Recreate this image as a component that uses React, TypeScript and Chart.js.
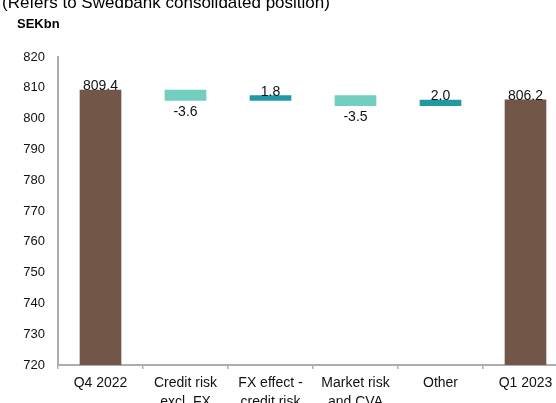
import React, { useEffect, useRef } from "react";
import { Chart, registerables } from "chart.js";

Chart.register(...registerables);

const titleText = "(Refers to Swedbank consolidated position)";
const unitText = "SEKbn";

const categories: string[][] = [
  ["Q4 2022"],
  ["Credit risk", "excl. FX"],
  ["FX effect -", "credit risk"],
  ["Market risk", "and CVA"],
  ["Other"],
  ["Q1 2023"],
];
const openingValue = 809.4;
const changes = [-3.6, 1.8, -3.5, 2.0];
const closingValue = 806.2;
const valueLabels = ["809.4", "-3.6", "1.8", "-3.5", "2.0", "806.2"];

const yMin = 720;
const yMax = 820;
const yStep = 10;

const COLOR_TOTAL = "#725749";
const COLOR_DOWN = "#72CEBF";
const COLOR_UP = "#2099A4";
const AXIS_COLOR = "#ADADAD";
const FONT = "'Liberation Sans', Arial, Helvetica, sans-serif";

function buildBars() {
  const data: [number, number][] = [];
  const colors: string[] = [];
  data.push([yMin, openingValue]);
  colors.push(COLOR_TOTAL);
  let running = openingValue;
  for (const c of changes) {
    const next = running + c;
    data.push([running, next]);
    colors.push(c < 0 ? COLOR_DOWN : COLOR_UP);
    running = next;
  }
  data.push([yMin, closingValue]);
  colors.push(COLOR_TOTAL);
  return { data, colors };
}

const labelPlugin = {
  id: "waterfallLabels",
  afterDatasetsDraw(chart: any) {
    const ctx = chart.ctx;
    const meta = chart.getDatasetMeta(0);
    ctx.save();
    ctx.font = `14px ${FONT}`;
    ctx.fillStyle = "#111";
    ctx.textAlign = "center";
    ctx.textBaseline = "alphabetic";
    meta.data.forEach((el: any, i: number) => {
      const top = Math.min(el.y, el.base);
      const bottom = Math.max(el.y, el.base);
      const isChange = i > 0 && i < meta.data.length - 1;
      const v = isChange ? changes[i - 1] : 1;
      if (v < 0) {
        ctx.fillText(valueLabels[i], el.x, bottom + 15.5);
      } else {
        ctx.fillText(valueLabels[i], el.x, top + 0.5);
      }
    });
    ctx.restore();
  },
};

const headerPlugin = {
  id: "header",
  afterDraw(chart: any) {
    const ctx = chart.ctx;
    ctx.save();
    ctx.fillStyle = "#000";
    ctx.textAlign = "left";
    ctx.textBaseline = "alphabetic";
    ctx.font = `17px ${FONT}`;
    ctx.fillText(titleText, 2, 7.5);
    ctx.font = `bold 13px ${FONT}`;
    ctx.fillText(unitText, 17, 28.3);
    ctx.restore();
  },
};

export default function App() {
  const canvasRef = useRef<HTMLCanvasElement | null>(null);

  useEffect(() => {
    const canvas = canvasRef.current;
    if (!canvas) return;
    const { data, colors } = buildBars();
    const chart = new Chart(canvas, {
      type: "bar",
      data: {
        labels: categories,
        datasets: [
          {
            data: data as any,
            backgroundColor: colors,
            borderWidth: 0,
            categoryPercentage: 0.49,
            barPercentage: 1,
            borderSkipped: false,
          },
        ],
      },
      options: {
        animation: false,
        responsive: false,
        maintainAspectRatio: false,
        devicePixelRatio: 1,
        layout: { padding: { top: 57, left: 0, right: 4, bottom: 0 } },
        plugins: {
          legend: { display: false },
          title: { display: false },
          tooltip: { enabled: false },
        },
        scales: {
          x: {
            offset: true,
            grid: {
              display: true,
              drawOnChartArea: false,
              drawTicks: true,
              tickLength: 4,
              color: AXIS_COLOR,
              lineWidth: 1.5,
              offset: true,
            },
            border: { display: true, color: AXIS_COLOR, width: 2 },
            ticks: {
              autoSkip: false,
              maxRotation: 0,
              minRotation: 0,
              padding: 5,
              color: "#111",
              font: { family: FONT, size: 14, lineHeight: 1.36 },
            },
            afterFit(scale: any) {
              scale.height = 55;
            },
          },
          y: {
            min: yMin,
            max: yMax,
            grid: { display: false, drawTicks: false },
            border: { display: true, color: AXIS_COLOR, width: 2 },
            ticks: {
              stepSize: yStep,
              padding: 13,
              color: "#111",
              font: { family: FONT, size: 13 },
            },
            afterFit(scale: any) {
              scale.width = 58;
            },
          },
        },
      },
      plugins: [labelPlugin, headerPlugin],
    });
    return () => chart.destroy();
  }, []);

  return (
    <div style={{ position: "fixed", left: 0, top: 0, width: 572, height: 420, background: "#fff" }}>
      <canvas ref={canvasRef} width={572} height={420} style={{ display: "block", width: 572, height: 420 }} />
    </div>
  );
}
